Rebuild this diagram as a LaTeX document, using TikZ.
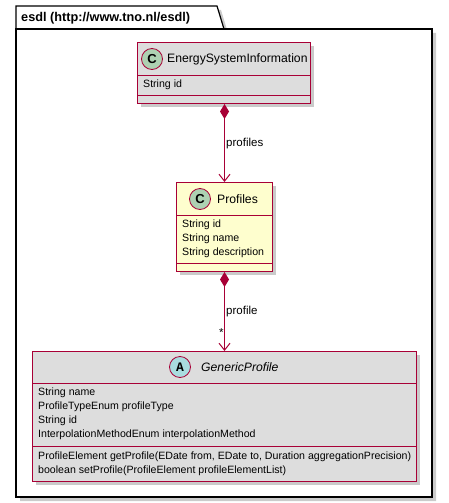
\documentclass[tikz,border=0pt]{standalone}
\usepackage{fontspec}
\setmainfont{Liberation Sans}
\newfontfamily\monofnt{Liberation Mono}
\usetikzlibrary{arrows.meta}
\definecolor{umlred}{HTML}{A80036}
\definecolor{umlyellow}{HTML}{FEFECE}
\definecolor{umlgray}{HTML}{DDDDDD}
\definecolor{cgreen}{HTML}{ADD1B2}
\definecolor{acyan}{HTML}{A9DCDF}
\definecolor{shadowc}{HTML}{A8A8A8}
\tikzset{
  classbox/.style={draw=umlred, line width=1pt, inner sep=0pt, anchor=north west},
  classline/.style={draw=umlred, line width=1pt},
  shadowbox/.style={fill=shadowc, opacity=0.6, draw=none},
  spot/.style={circle, draw=umlred, line width=0.8pt, minimum size=21pt, inner sep=0pt},
  attr/.style={anchor=west, inner sep=0pt, font=\fontsize{10.6}{13}\selectfont},
  cname/.style={anchor=west, inner sep=0pt, font=\fontsize{12.2}{14}\selectfont},
  lbl/.style={anchor=west, inner sep=0pt, font=\fontsize{11.5}{13}\selectfont},
  assoc/.style={draw=umlred, line width=1pt,
    {Diamond[length=15pt,width=9pt,fill=umlred]}-{Straight Barb[length=7pt,width=11pt,line width=1pt]}}
}
\begin{document}
\begin{tikzpicture}[x=1pt,y=-1pt]
\useasboundingbox (0,0) rectangle (448,503);
% package
\fill[shadowc,opacity=0.6] (20,33) -- (20,10) -- (221,10) -- (228,33) -- (436,33) -- (436,501) -- (20,501) -- cycle;
\draw[black, line width=1.2pt, fill=white] (16,29) -- (16,6) -- (217,6) -- (224,29) -- cycle;
\draw[black, line width=1.2pt, fill=white] (16,29) rectangle (432,497);
\node[anchor=west, inner sep=0pt, font=\bfseries\fontsize{12.7}{14}\selectfont] (pkg) at (21,18) {esdl (http://www.tno.nl/esdl)};

% EnergySystemInformation
\fill[shadowbox] (141,46) rectangle (314,107);
\node[classbox, fill=umlgray, minimum width=173pt, minimum height=61pt] (esi) at (137,42) {};
\draw[classline] (137,75) -- (310,75);
\draw[classline] (137,95) -- (310,95);
\node[spot, fill=cgreen] (esic) at (152,59) {\bfseries\fontsize{13}{13}\selectfont C};
\node[cname] (esin) at (167,59) {EnergySystemInformation};
\node[attr] (esia) at (143,85) {String id};

% Profiles
\fill[shadowbox] (180,186) rectangle (276,275);
\node[classbox, fill=umlyellow, minimum width=96pt, minimum height=89pt] (prof) at (176,182) {};
\draw[classline] (176,215) -- (272,215);
\draw[classline] (176,263) -- (272,263);
\node[spot, fill=cgreen] (profc) at (200,199) {\bfseries\fontsize{13}{13}\selectfont C};
\node[cname] (profn) at (217,199) {Profiles};
\node[attr] (profa1) at (182,225) {String id};
\node[attr] (profa2) at (182,239) {String name};
\node[attr] (profa3) at (182,253) {String description};

% GenericProfile
\fill[shadowbox] (36,355) rectangle (420,485);
\node[classbox, fill=umlgray, minimum width=384pt, minimum height=130pt] (gen) at (32,351) {};
\draw[classline] (32,383) -- (416,383);
\draw[classline] (32,446) -- (416,446);
\node[spot, fill=acyan] (genc) at (180,367) {\monofnt\bfseries\fontsize{13}{13}\selectfont A};
\node[cname, font=\itshape\fontsize{12.2}{14}\selectfont] (genn) at (201,367) {GenericProfile};
\node[attr] (gena1) at (38,393) {String name};
\node[attr] (gena2) at (38,407) {ProfileTypeEnum profileType};
\node[attr] (gena3) at (38,421) {String id};
\node[attr] (gena4) at (38,435) {InterpolationMethodEnum interpolationMethod};
\node[attr] (genm1) at (38,457) {ProfileElement getProfile(EDate from, EDate to, Duration aggregationPrecision)};
\node[attr] (genm2) at (38,471) {boolean setProfile(ProfileElement profileElementList)};

% connectors
\draw[assoc] (esi.south -| prof.north) -- (prof.north);
\draw[assoc] (prof.south) -- (prof.south |- gen.north);
\node[lbl] (l1) at (226,144) {profiles};
\node[lbl] (l2) at (226,312) {profile};
\node[lbl] (l3) at (219,333) {*};
\end{tikzpicture}
\end{document}
